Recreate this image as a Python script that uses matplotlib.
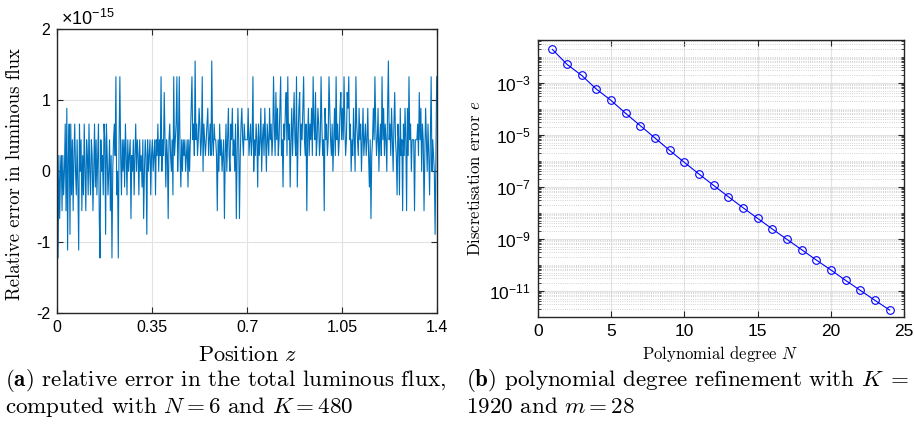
import numpy as np
import matplotlib
matplotlib.use('Agg')
import matplotlib.pyplot as plt
from matplotlib.ticker import FixedLocator, LogLocator, NullFormatter, FuncFormatter

plt.rcParams['font.family'] = 'Liberation Sans'
plt.rcParams['mathtext.fontset'] = 'custom'
plt.rcParams['mathtext.rm'] = 'Liberation Sans'
plt.rcParams['mathtext.it'] = 'Liberation Sans:italic'
plt.rcParams['axes.unicode_minus'] = False

# (a) relative flux error, in units of eps/2 (~1.11e-16)
unit = 1.11e-16
err_a = [4, -11, 2, -6, 0, 2, -5, 2, -3, 0, 6, -5, 8, -10, 2, 6, -8, 6, -3, 4,
         -5, 2, 6, 0, -3, 4, -2, -10, 6, 0, 4, -5, 2, -3, 6, 0, -5, 4, 2, -3]
err_b = [6, 0, -3, 4, 2, -5, 0, 6, -2, 4, -3, 2, 6, -6, -11, 4, 0, 2, -3, 6,
         4, -8, 6, 2, -3, 0, 4, -5, 2, -11, 0, 4, 6, 2, 12, -3, 0, -11, 4, 12]
err_c = [2, -3, 4, 0, 4, -2, 6, 2, -3, 4, 0, 2, 4, -6, 2, 0, 4, -3, 2, 6,
         0, 4, 2, -3, 4, 0, 2, -2, 4, -6, 0, 4, 2, -8, 4, 0, 2, 4, -3, 2]
err_d = [4, 0, 2, 4, -3, 4, 2, 6, 0, 4, 2, 12, 0, 4, 2, 10, 4, -2, 4, 2,
         -6, 4, 6, 2, 0, 4, -3, 12, 2, 4, 6, 12, 0, 4, 12, 2, -2, 4, 0, 4]
err_e = [2, 4, 0, 2, 4, -2, 4, 0, 4, 8, 12, 4, 6, 2, 14, 4, 6, 2, 4, 8,
         6, 2, 4, 12, 0, 6, 4, 2, 4, 6, 8, 2, 4, 6, 2, 14, 4, 2, 6, 4]
err_f = [4, 2, -5, 4, 0, 6, 2, 4, 0, 2, 4, -6, 2, 6, 0, 4, 8, 2, 0, 6,
         4, 8, 2, 4, 0, 6, -6, 2, 8, 4, -6, 2, 6, 8, 4, 2, 6, 4, 4, 4]
err_g = [4, 8, 2, 4, 6, 2, 4, 12, 0, 4, 2, 6, 4, -2, 6, 2, 4, 8, 0, 4,
         6, 2, 8, 4, 0, 6, 4, 2, 8, 4, 6, 2, 4, 12, 6, 2, 10, 4, 8, 2]
err_h = [4, 8, 12, 2, 4, -2, 6, 4, 8, 10, 2, 12, 4, 6, -2, 4, 8, 2, 6, 10,
         4, 2, 12, -2, 4, 8, 10, 2, 6, 4, 8, 12, 4, 2, 6, -5, 4, 8, 2, 6]
err_i = [4, 8, 2, 12, 6, 4, 10, 2, 4, 8, 6, 2, 4, 12, 6, 2, 4, -5, 8, 4,
         6, 2, 4, 12, 8, 4, 2, 6, 0, 4, 8, 2, 12, 4, 6, 2, 4, 8, 10, 4]
err_j = [8, 4, 12, 6, 2, 4, 10, 8, 12, 4, 6, 0, 4, 2, 8, 4, 0, 12, 6, 4,
         2, 8, 4, 6, 0, 4, 8, 2, 4, 6, 2, 4, 8, 2, -2, 4, -6, 2, 4, 8]
err_k = [4, 12, 6, 2, 4, 8, 0, 4, 6, 2, 12, 4, 8, 2, 6, 4, 0, 8, 14, 4,
         6, 2, 8, 4, 0, 6, 10, 4, 2, -3, 6, 4, -3, 8, 2, 4, -5, 6, 2, 8]
err_l = [4, -5, 8, 2, 12, 4, 6, 0, 4, 4, 4, -5, 4, 4, 4, 6, 2, 10, 4, 8,
         0, 6, 4, -5, 2, 8, 4, 0, 6, 2, -3, 4, 12, 0, 4, 2, 0, -8, 2, 12]

# (b) discretisation error vs polynomial degree
degree = list(range(1, 25))
disc_err = [1.91e-2, 5.07e-3, 1.91e-3, 5.70e-4, 2.09e-4, 6.62e-5, 2.22e-5, 7.45e-6,
            2.49e-6, 8.63e-7, 3.07e-7, 1.12e-7, 4.12e-8, 1.56e-8, 6.05e-9, 2.36e-9,
            9.42e-10, 3.78e-10, 1.51e-10, 6.24e-11, 2.49e-11, 1.03e-11, 4.25e-12, 1.80e-12]

levels = np.array(err_a + err_b + err_c + err_d + err_e + err_f +
                  err_g + err_h + err_i + err_j + err_k + err_l)
rel_err = levels * unit
z = np.linspace(0, 1.4, len(rel_err))

W, H = 914, 426
fig = plt.figure(figsize=(W / 100, H / 100), dpi=100)

axc = '#262626'
serif = dict(fontfamily='cmr10', math_fontfamily='cm', color='black')

# ---- left panel
ax1 = fig.add_axes([57.3 / W, 1 - 313.3 / H, 379.4 / W, 284 / H])
ax1.plot(z, rel_err / 1e-15, color='#0072BD', lw=0.8)
ax1.set_xlim(0, 1.4)
ax1.set_ylim(-2, 2)
ax1.set_xticks([0, 0.35, 0.7, 1.05, 1.4])
ax1.set_xticklabels(['0', '0.35', '0.7', '1.05', '1.4'])
ax1.set_yticks([-2, -1, 0, 1, 2])
ax1.set_yticklabels(['-2', '-1', '0', '1', '2'])
ax1.grid(True, color='#e2e2e2', lw=0.8)
ax1.set_axisbelow(True)
ax1.tick_params(direction='in', top=True, right=True, labelsize=11.5,
                length=4, width=0.8, color=axc, pad=5)
for s in ax1.spines.values():
    s.set_color(axc)
    s.set_linewidth(1.0)
fig.text(61 / W, 1 - 19 / H, r'$\times10^{-15}$', fontsize=13, va='center')

fig.text(248 / W, 1 - 355 / H, r'Position $z$', ha='center', va='center',
         fontsize=16, **serif)
fig.text(15 / W, 1 - 174 / H, 'Relative error in luminous flux', rotation=90,
         ha='center', va='center', fontsize=13.5, **serif)

# ---- right panel
ax2 = fig.add_axes([537.7 / W, 1 - 316.7 / H, 366.6 / W, 276.7 / H])
ax2.semilogy(degree, disc_err, '-o', color='#0000FF', mfc='none', ms=5.5,
             mew=0.8, lw=0.8)
ax2.set_xlim(0, 25)
ax2.set_ylim(1e-12, 4.4e-2)
ax2.set_xticks([0, 5, 10, 15, 20, 25])
ax2.yaxis.set_major_locator(FixedLocator([1e-11, 1e-9, 1e-7, 1e-5, 1e-3]))
ax2.yaxis.set_major_formatter(FuncFormatter(
    lambda v, p: r'$10^{%d}$' % int(round(np.log10(v)))))
ax2.yaxis.set_minor_locator(LogLocator(base=10, subs=np.arange(1, 10), numticks=100))
ax2.yaxis.set_minor_formatter(NullFormatter())
ax2.grid(True, which='major', color='#e2e2e2', lw=0.8)
ax2.grid(True, which='minor', axis='y', color='#c4c4c4', ls=':', lw=0.6)
ax2.set_axisbelow(True)
ax2.tick_params(which='both', direction='in', top=True, right=True, labelsize=12.5,
                color=axc, pad=5)
ax2.tick_params(which='major', length=4, width=0.8)
ax2.tick_params(which='minor', length=2, width=0.6)
for s in ax2.spines.values():
    s.set_color(axc)
    s.set_linewidth(1.0)

fig.text(720 / W, 1 - 354 / H, r'Polynomial degree $N$', ha='center', va='center',
         fontsize=12, **serif)
fig.text(475 / W, 1 - 178 / H, r'Discretisation error $e$', rotation=90,
         ha='center', va='center', fontsize=12, **serif)

# ---- captions
cap = 16.6
fig.text(5 / W, 1 - 380 / H, r'$\mathbf{(a)}$ relative error in the total luminous flux,',
         va='center', fontsize=cap, **serif)
fig.text(5 / W, 1 - 407 / H, r'computed with $N = 6$ and $K = 480$',
         va='center', fontsize=cap, **serif)
fig.text(466 / W, 1 - 380 / H, r'$\mathbf{(b)}$ polynomial degree refinement with $K\;=$',
         va='center', fontsize=cap, **serif)
fig.text(466 / W, 1 - 407 / H, r'1920 and $m = 28$',
         va='center', fontsize=cap, **serif)

fig.savefig('out.png', dpi=100)
